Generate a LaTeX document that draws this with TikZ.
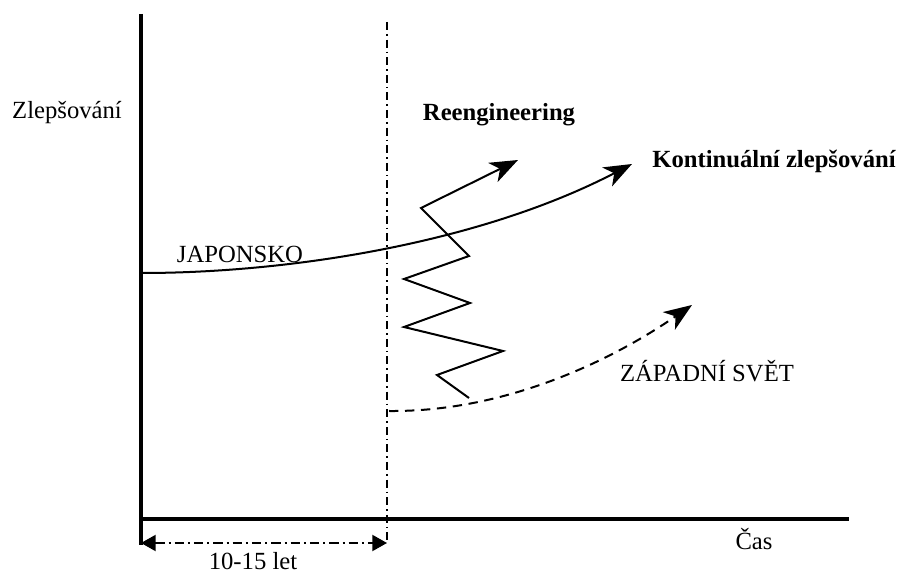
\documentclass[tikz,border=0pt]{standalone}
\usepackage{fontspec}
\setmainfont{Liberation Serif}
\usetikzlibrary{arrows.meta}
\begin{document}
\begin{tikzpicture}[x=0.75pt,y=-0.75pt,
  axis/.style={line width=2.3pt},
  curve/.style={line width=1.5pt},
  bigtip/.style={-{Stealth[length=21pt,width=16pt,inset=6pt]}},
  dimline/.style={line width=1.5pt,dash pattern=on 7pt off 3pt on 1.5pt off 3pt,{Triangle[length=11pt,width=12pt]}-{Triangle[length=11pt,width=12pt]}},
  vline/.style={line width=1.1pt,dash pattern=on 6pt off 3pt on 1.2pt off 3pt},
  lbl/.style={font=\fontsize{18.5}{20}\selectfont,anchor=base,inner sep=0pt},
  blbl/.style={lbl,font=\fontsize{18.5}{20}\selectfont\bfseries}]
\useasboundingbox (0,0) rectangle (901,577);
% axes
\coordinate (ytop) at (141,14);
\coordinate (ybot) at (141,545);
\coordinate (xl) at (141,519);
\coordinate (xr) at (849,519);
\draw[axis] (ytop) -- (ybot);
\draw[axis] (xl) -- (xr);
% vertical dash-dot line
\coordinate (vtop) at (387,22);
\coordinate (vbot) at (387,540);
\draw[vline] (vtop) -- (vbot);
% dimension arrow
\coordinate (dl) at (141,543);
\coordinate (dr) at (387,543);
\draw[dimline] (dl) -- (dr);
% Japan curve
\coordinate (j0) at (142,273);
\coordinate (j1) at (632,164);
\draw[curve,bigtip] (j0) .. controls (290,273) and (480,243) .. (j1);
% western dashed curve
\coordinate (w0) at (389,411);
\coordinate (w1) at (692,305);
\draw[curve,dash pattern=on 7pt off 5pt,bigtip] (w0) .. controls (500,412) and (605,365) .. (w1);
% reengineering zigzag
\coordinate (z0) at (469,398);
\coordinate (z1) at (437,375);
\coordinate (z2) at (503,351);
\coordinate (z3) at (404,327);
\coordinate (z4) at (470,303);
\coordinate (z5) at (404,279);
\coordinate (z6) at (469,256);
\coordinate (z7) at (421,208);
\coordinate (z8) at (518,160);
\draw[curve,bigtip,line join=miter] (z0) -- (z1) -- (z2) -- (z3) -- (z4) -- (z5) -- (z6) -- (z7) -- (z8);
% labels
\node[lbl] (ylab) at (67,119) {Zlepšování};
\node[lbl] (jap) at (240,263) {JAPONSKO};
\node[blbl] (reeng) at (499,121) {Reengineering};
\node[blbl] (kont) at (774,168) {Kontinuální zlepšování};
\node[lbl] (zap) at (707,382) {ZÁPADNÍ SVĚT};
\node[lbl] (cas) at (754,550) {Čas};
\node[lbl] (let) at (253,570) {10-15 let};
\end{tikzpicture}
\end{document}
